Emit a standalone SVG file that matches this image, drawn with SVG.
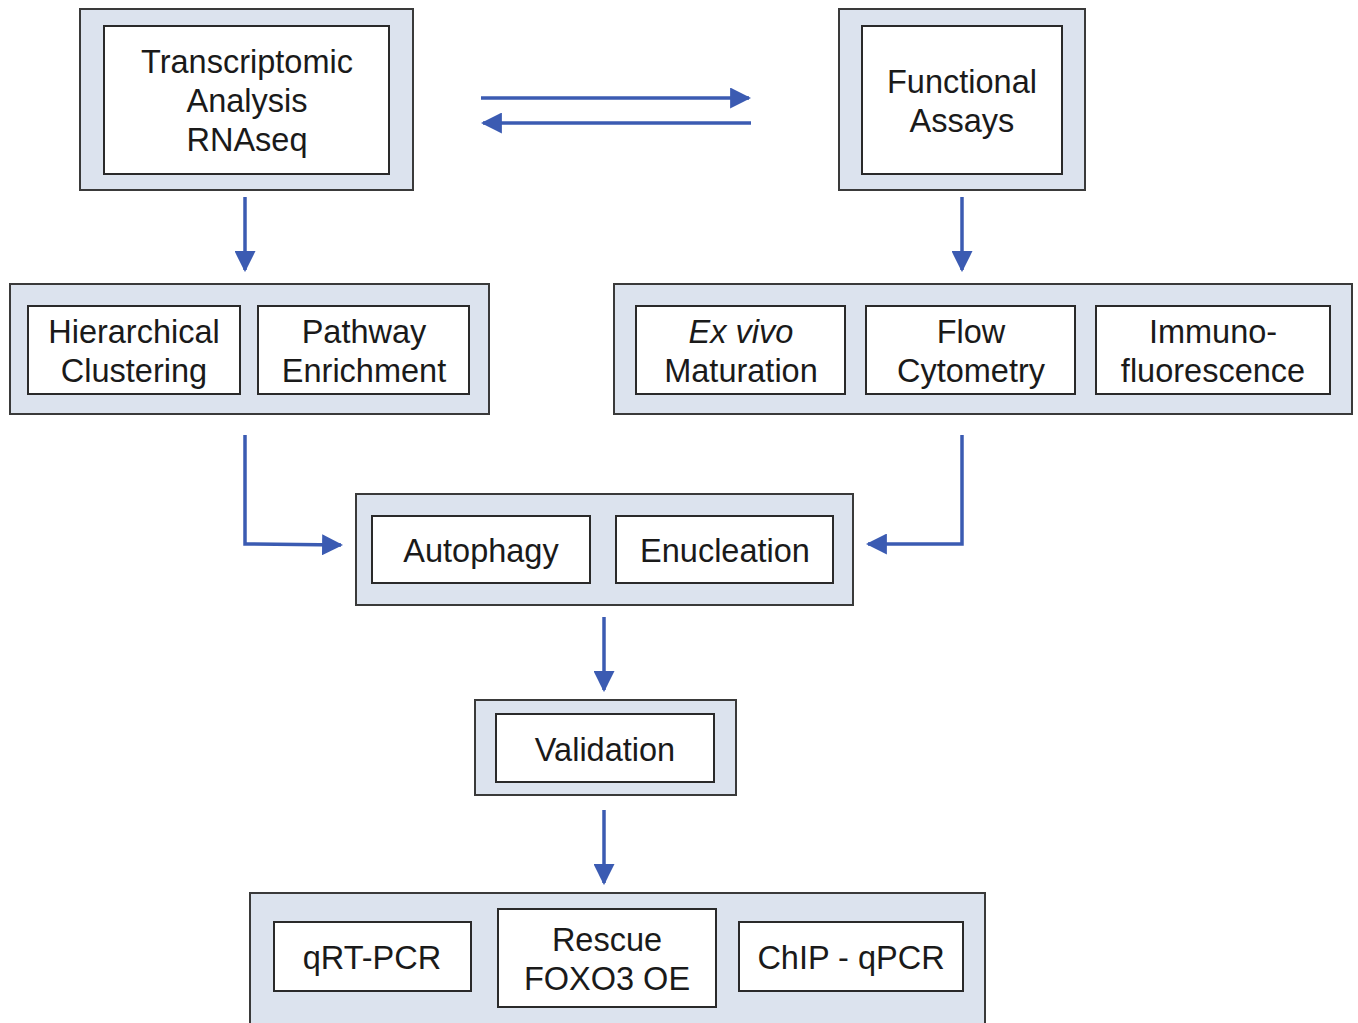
<svg xmlns="http://www.w3.org/2000/svg" width="1358" height="1023" viewBox="0 0 1358 1023">
<style>
.outer{fill:#dce3ee;stroke:#3a3a3a;stroke-width:2}
.inner{fill:#fff;stroke:#2a2a2a;stroke-width:2}
text{font-family:"Liberation Sans",Arial,sans-serif;font-size:32.5px;fill:#1a1a1a;text-anchor:middle}
.conn{fill:none;stroke:#3b5bb2;stroke-width:3.5}
</style>
<defs>
<marker id="ah" viewBox="0 0 10 10" refX="9" refY="5" markerWidth="6" markerHeight="6" markerUnits="strokeWidth" orient="auto">
<path d="M0,0 L10,5 L0,10 z" fill="#3b5bb2"/>
</marker>
</defs>
<rect width="1358" height="1023" fill="#fff"/>
<g id="transcriptomic">
<rect class="outer" x="80" y="9" width="333" height="181"/>
<rect class="inner" x="104" y="26" width="285" height="148"/>
<text x="247" y="73">Transcriptomic</text>
<text x="247" y="112">Analysis</text>
<text x="247" y="151">RNAseq</text>
</g>
<g id="functional">
<rect class="outer" x="839" y="9" width="246" height="181"/>
<rect class="inner" x="862" y="26" width="200" height="148"/>
<text x="962" y="93">Functional</text>
<text x="962" y="132">Assays</text>
</g>
<g id="analysis">
<rect class="outer" x="10" y="284" width="479" height="130"/>
<rect class="inner" x="28" y="306" width="212" height="88"/>
<rect class="inner" x="258" y="306" width="211" height="88"/>
<text x="134" y="343">Hierarchical</text>
<text x="134" y="382">Clustering</text>
<text x="364" y="343">Pathway</text>
<text x="364" y="382">Enrichment</text>
</g>
<g id="assays">
<rect class="outer" x="614" y="284" width="738" height="130"/>
<rect class="inner" x="636" y="306" width="209" height="88"/>
<rect class="inner" x="866" y="306" width="209" height="88"/>
<rect class="inner" x="1096" y="306" width="234" height="88"/>
<text x="741" y="343" font-style="italic">Ex vivo</text>
<text x="741" y="382">Maturation</text>
<text x="971" y="343">Flow</text>
<text x="971" y="382">Cytometry</text>
<text x="1213" y="343">Immuno-</text>
<text x="1213" y="382">fluorescence</text>
</g>
<g id="processes">
<rect class="outer" x="356" y="494" width="497" height="111"/>
<rect class="inner" x="372" y="516" width="218" height="67"/>
<rect class="inner" x="616" y="516" width="217" height="67"/>
<text x="481" y="562">Autophagy</text>
<text x="725" y="562">Enucleation</text>
</g>
<g id="validation">
<rect class="outer" x="475" y="700" width="261" height="95"/>
<rect class="inner" x="496" y="714" width="218" height="68"/>
<text x="605" y="761">Validation</text>
</g>
<g id="methods">
<rect class="outer" x="250" y="893" width="735" height="140"/>
<rect class="inner" x="274" y="922" width="197" height="69"/>
<rect class="inner" x="498" y="909" width="218" height="98"/>
<rect class="inner" x="739" y="922" width="224" height="69"/>
<text x="372" y="969">qRT-PCR</text>
<text x="607" y="951">Rescue</text>
<text x="607" y="990">FOXO3 OE</text>
<text x="851" y="969">ChIP - qPCR</text>
</g>
<g id="connectors">
<path class="conn" d="M481,98 L749,98" marker-end="url(#ah)"/>
<path class="conn" d="M751,123 L483,123" marker-end="url(#ah)"/>
<path class="conn" d="M245,197 L245,270" marker-end="url(#ah)"/>
<path class="conn" d="M962,197 L962,270" marker-end="url(#ah)"/>
<path class="conn" d="M245,435 L245,544 L341,545" marker-end="url(#ah)"/>
<path class="conn" d="M962,435 L962,544 L868,544" marker-end="url(#ah)"/>
<path class="conn" d="M604,617 L604,690" marker-end="url(#ah)"/>
<path class="conn" d="M604,810 L604,883" marker-end="url(#ah)"/>
</g>
</svg>
